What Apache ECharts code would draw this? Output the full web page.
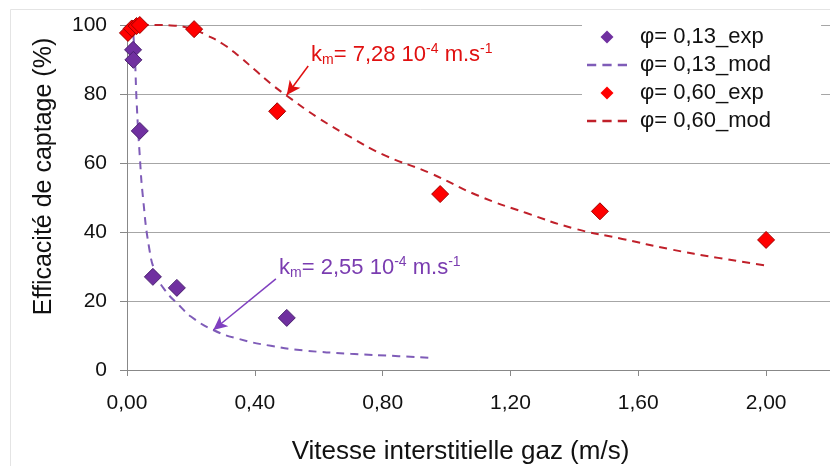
<!DOCTYPE html>
<html><head><meta charset="utf-8">
<script src="https://cdn.jsdelivr.net/npm/echarts@6/dist/echarts.min.js"></script>
<style>html,body{margin:0;padding:0;background:#fff}#c{width:830px;height:466px}</style>
</head><body><div id="c"></div>
<script>
// Data
var exp013 = [[0.019, 92.8], [0.02, 89.9], [0.04, 69.3], [0.081, 27.0], [0.156, 23.8], [0.50, 15.1]];
var mod013 = [[0.02, 97], [0.025, 90], [0.03, 78], [0.04, 62], [0.05, 50], [0.07, 35], [0.09, 28], [0.12, 23],
  [0.166, 18.5], [0.2, 15.5], [0.27, 11.6], [0.35, 9], [0.45, 7], [0.55, 5.7], [0.7, 4.7], [0.85, 4], [0.95, 3.5]];
var exp060 = [[0.003, 97.7], [0.015, 99.0], [0.03, 99.7], [0.04, 100], [0.21, 98.8], [0.47, 75.0], [0.98, 51.0], [1.48, 46.0], [2.0, 37.7]];
var mod060 = [[0.005, 98.5], [0.02, 99.8], [0.05, 100], [0.1, 100], [0.15, 99.8], [0.2, 99], [0.25, 97], [0.3, 94.5],
  [0.35, 91], [0.4, 87], [0.45, 83], [0.5, 79.5], [0.6, 73], [0.7, 67.5], [0.8, 62.5], [0.95, 57], [1.1, 50.5],
  [1.25, 45.5], [1.4, 41], [1.55, 38], [1.7, 35], [1.85, 32.5], [2.0, 30.3]];
var seriesNames = ['φ= 0,13_exp', 'φ= 0,13_mod', 'φ= 0,60_exp', 'φ= 0,60_mod'];
var annotRed = {text: [0.576, 91.3], arrowFrom: [0.567, 88.1], arrowTo: [0.50, 79.7], value: '7,28'};
var annotPurple = {text: [0.476, 29.6], arrowFrom: [0.466, 26.4], arrowTo: [0.27, 11.6], value: '2,55'};

var FONT = '"Liberation Sans", Arial, sans-serif';
var PURPLE = '#7030A0', PURPLE_LINE = '#7F5CB8', RED = '#FF0000', RED_LINE = '#C0202A', RED_TXT = '#E01010';
var DIAMOND = 'path://M0,-10L10,0L0,10L-10,0Z';
var DASHES = 'path://M0,0h9v2.2h-9zM15,0h9v2.2h-9zM30,0h9v2.2h-9z';

function kmLabel(v, color) {
  return {
    show: true, position: 'right', distance: 0,
    formatter: '{k|k}{sub|m}{n|= ' + v + ' 10}{sup|-4}{n| m.s}{sup|-1}',
    rich: {
      k: {fontSize: 22, color: color, fontFamily: FONT},
      n: {fontSize: 22, color: color, fontFamily: FONT},
      sub: {fontSize: 14, color: color, fontFamily: FONT, padding: [11, 0, 0, 0]},
      sup: {fontSize: 14, color: color, fontFamily: FONT, padding: [0, 0, 11, 0]}
    }
  };
}
function arrowLine(a, color) {
  return {
    silent: true, symbol: ['none', 'arrow'], symbolSize: [10, 14],
    lineStyle: {color: color, type: 'solid', width: 1.5},
    label: {show: false},
    data: [[{coord: a.arrowFrom}, {coord: a.arrowTo}]]
  };
}
function textPoint(a, color) {
  return {
    silent: true, symbol: 'circle', symbolSize: 0,
    label: kmLabel(a.value, color),
    data: [{coord: a.text}]
  };
}

var chart = echarts.init(document.getElementById('c'), null, {renderer: 'canvas'});
chart.setOption({
  animation: false,
  backgroundColor: '#fff',
  textStyle: {fontFamily: FONT},
  graphic: [{type: 'rect', shape: {x: 10.5, y: 9.5, width: 830, height: 470}, style: {fill: 'none', stroke: '#e4e4e4', lineWidth: 1}, z: -10}],
  grid: {left: 127, right: 0, top: 25, bottom: 96, containLabel: false, outerBoundsMode: 'none'},
  legend: {
    left: 582, top: 22, orient: 'vertical', itemGap: 6, itemWidth: 40, itemHeight: 13,
    symbolKeepAspect: true,
    backgroundColor: '#fff', padding: [4, 50, 10, 5],
    textStyle: {fontSize: 22, color: '#111', fontFamily: FONT, padding: [0, 0, 0, 8]},
    data: [
      {name: seriesNames[0], icon: DIAMOND, itemStyle: {color: PURPLE, borderWidth: 0}},
      {name: seriesNames[1], icon: DASHES, itemStyle: {color: PURPLE_LINE, borderWidth: 0}},
      {name: seriesNames[2], icon: DIAMOND, itemStyle: {color: RED, borderWidth: 0}},
      {name: seriesNames[3], icon: DASHES, itemStyle: {color: RED_LINE, borderWidth: 0}}
    ]
  },
  xAxis: {
    type: 'value', min: 0, max: 2.2, interval: 0.4,
    name: 'Vitesse interstitielle gaz (m/s)', nameLocation: 'middle', nameGap: 69,
    nameTextStyle: {fontSize: 26, color: '#111', fontFamily: FONT, padding: [0, 36, 0, 0]},
    axisLine: {show: true, lineStyle: {color: '#888', width: 1}},
    axisTick: {show: true, length: 6, lineStyle: {color: '#888'}},
    splitLine: {show: false},
    axisLabel: {fontSize: 21, color: '#111', margin: 23, showMaxLabel: false,
      formatter: function (v) { return v.toFixed(2).replace('.', ','); }}
  },
  yAxis: {
    type: 'value', min: 0, max: 100, interval: 20,
    name: 'Efficacité de captage (%)', nameLocation: 'middle', nameGap: 70,
    nameTextStyle: {fontSize: 25, color: '#111', fontFamily: FONT, padding: [0, 0, 0, 42]},
    axisLine: {show: true, lineStyle: {color: '#888', width: 1}},
    axisTick: {show: true, length: 7, lineStyle: {color: '#888'}},
    splitLine: {show: true, lineStyle: {color: '#a6a6a6', width: 1.2}},
    axisLabel: {fontSize: 21, color: '#111', margin: 20}
  },
  series: [
    {name: seriesNames[1], type: 'line', data: mod013, smooth: true, showSymbol: false, symbol: 'none',
      lineStyle: {color: PURPLE_LINE, type: [8, 6], width: 2}, itemStyle: {color: PURPLE_LINE}, z: 2,
      markLine: arrowLine(annotPurple, '#8040C0'), markPoint: textPoint(annotPurple, '#7A3CB0')},
    {name: seriesNames[3], type: 'line', data: mod060, smooth: true, showSymbol: false, symbol: 'none',
      lineStyle: {color: RED_LINE, type: [8, 6], width: 2}, itemStyle: {color: RED_LINE}, z: 2,
      markLine: arrowLine(annotRed, RED_TXT), markPoint: textPoint(annotRed, RED_TXT)},
    {name: seriesNames[0], type: 'scatter', data: exp013, symbol: 'diamond', symbolSize: 17,
      itemStyle: {color: PURPLE, borderColor: '#4a2070', borderWidth: 1, opacity: 1}, z: 3},
    {name: seriesNames[2], type: 'scatter', data: exp060, symbol: 'diamond', symbolSize: 17,
      itemStyle: {color: RED, borderColor: '#a00000', borderWidth: 1, opacity: 1}, z: 3}
  ]
});
</script></body></html>
